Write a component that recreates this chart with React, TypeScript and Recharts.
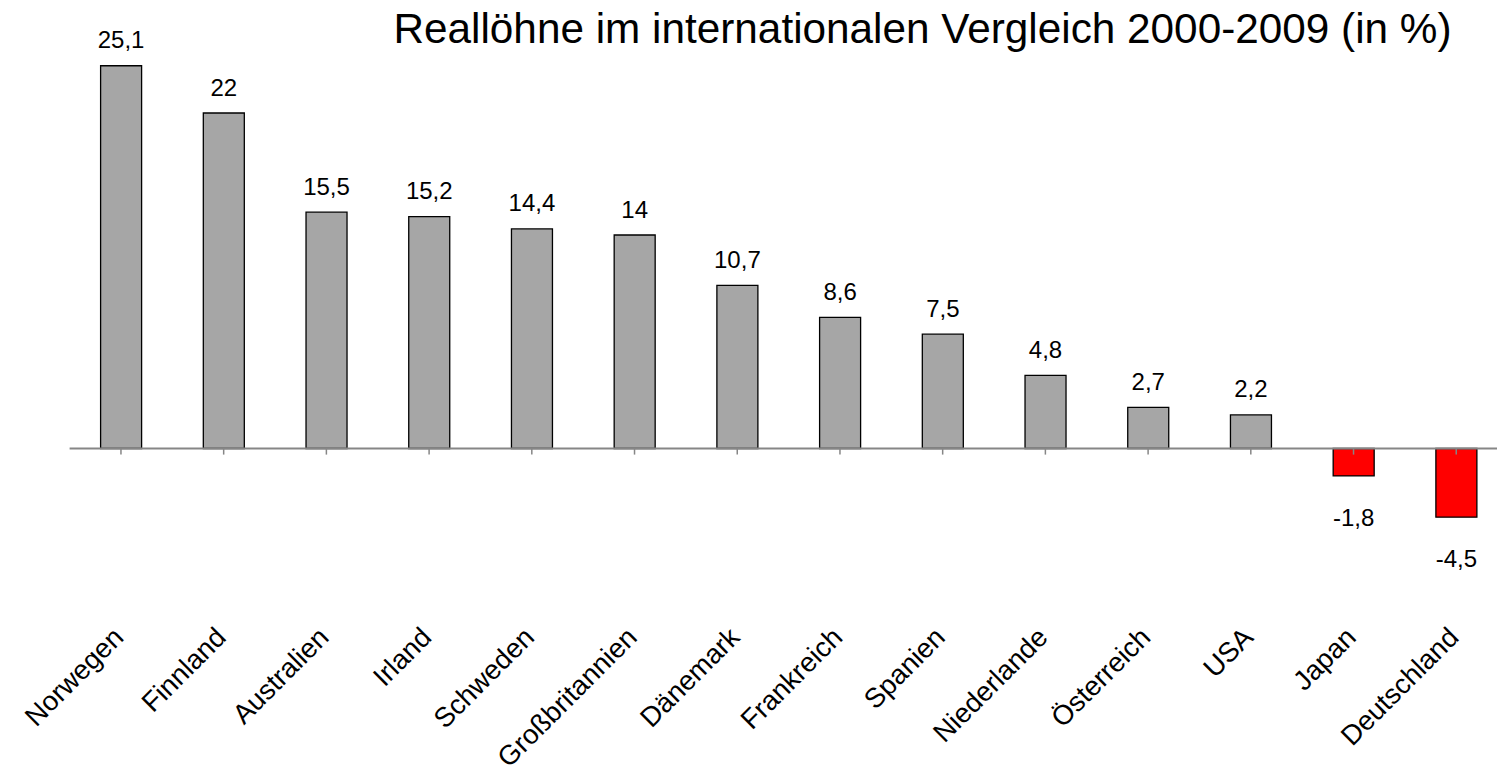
import React from 'react';
import { BarChart, Bar, XAxis, YAxis, Cell, LabelList, ReferenceLine } from 'recharts';

const countries = [
  'Norwegen', 'Finnland', 'Australien', 'Irland', 'Schweden', 'Großbritannien', 'Dänemark',
  'Frankreich', 'Spanien', 'Niederlande', 'Österreich', 'USA', 'Japan', 'Deutschland',
];
const values = [25.1, 22, 15.5, 15.2, 14.4, 14, 10.7, 8.6, 7.5, 4.8, 2.7, 2.2, -1.8, -4.5];
const title = 'Reallöhne im internationalen Vergleich 2000-2009 (in %)';
const positiveColor = '#a6a6a6';
const negativeColor = '#ff0000';
const yDomain = [-8, 28];

const data = countries.map((name, i) => ({ name, value: values[i] }));

const FONT = '"Liberation Sans", Arial, Helvetica, sans-serif';

const fmt = (v: number) => String(v).replace('.', ',');

const ValueLabel = (props: any) => {
  const { x, y, width, height, value } = props;
  const top = Math.min(y, y + height);
  const bottom = Math.max(y, y + height);
  const cx = x + width / 2;
  const neg = value < 0;
  return (
    <text x={cx} y={neg ? bottom + 50 : top - 17.5} textAnchor="middle" fontSize={24} fontFamily={FONT} fill="#000">
      {fmt(value)}
    </text>
  );
};

const CategoryTick = (props: any) => {
  const { x, y, payload } = props;
  const tx = x + 4;
  const ty = y + 68.5;
  return (
    <text x={tx} y={ty} transform={`rotate(-45, ${tx}, ${ty})`} textAnchor="end" fontSize={27.5} fontFamily={FONT} fill="#000">
      {payload.value}
    </text>
  );
};

export default function App() {
  return (
    <div style={{ position: 'absolute', left: 0, top: 0, width: 1497, height: 773, overflow: 'hidden', background: '#fff' }}>
      <BarChart
        width={1510}
        height={773}
        data={data}
        margin={{ top: 21.5, right: 2.4, bottom: 0, left: 69.6 }}
        barSize={41}
      >
        <XAxis
          dataKey="name"
          interval={0}
          axisLine={false}
          tickLine={false}
          tickSize={0}
          tickMargin={0}
          height={202.5}
          tick={<CategoryTick />}
        />
        <YAxis hide domain={yDomain} />
        <Bar dataKey="value" stroke="#000" strokeWidth={1.3} isAnimationActive={false}>
          {data.map((d, i) => (
            <Cell key={i} fill={d.value < 0 ? negativeColor : positiveColor} />
          ))}
          <LabelList dataKey="value" content={<ValueLabel />} />
        </Bar>
        <ReferenceLine y={0} stroke="#868686" strokeWidth={2} />
        {countries.map((c) => (
          <ReferenceLine
            key={c}
            segment={[{ x: c, y: 0 }, { x: c, y: -0.4 }]}
            stroke="#868686"
            strokeWidth={1.5}
          />
        ))}
      </BarChart>
      <svg style={{ position: 'absolute', left: 0, top: 0, pointerEvents: 'none' }} width={1497} height={80}>
        <text x={922.5} y={43} textAnchor="middle" fontSize={42.3} fontFamily={FONT} fill="#000">
          {title}
        </text>
      </svg>
    </div>
  );
}
